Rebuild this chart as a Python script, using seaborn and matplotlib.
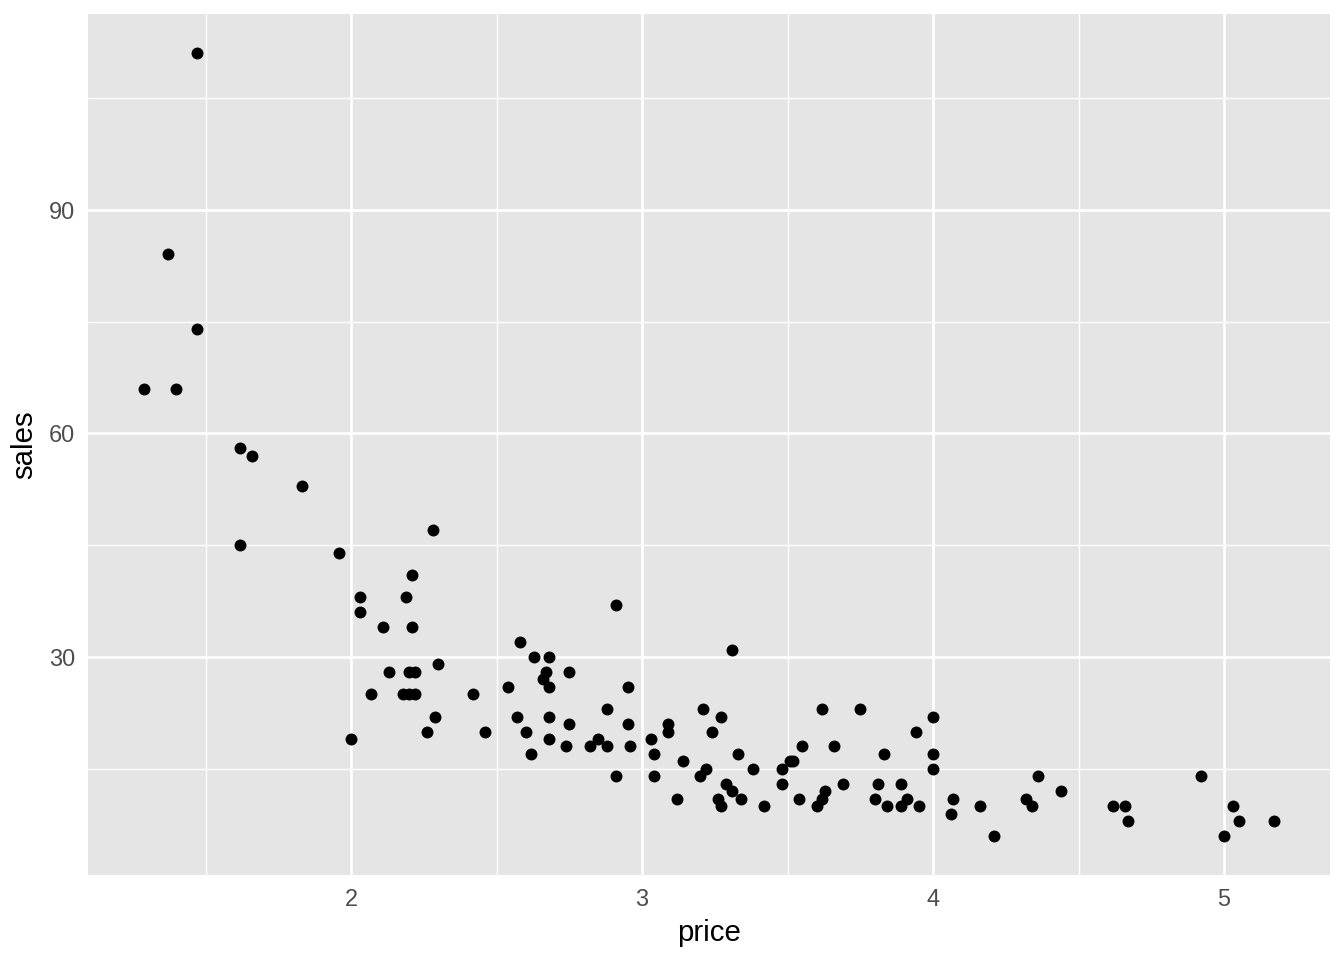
import numpy as np
import pandas as pd
import matplotlib
matplotlib.use("Agg")
import matplotlib.pyplot as plt
import seaborn as sns

price = [1.47, 1.37, 1.47, 1.29, 1.40, 1.62, 1.66, 1.83, 1.62, 1.96,
         2.28, 2.03, 2.03, 2.11, 2.19, 2.21, 2.21, 2.13, 2.20, 2.22,
         2.07, 2.18, 2.20, 2.22, 2.30, 2.00, 2.29, 2.26, 2.42, 2.46,
         2.58, 2.54, 2.63, 2.68, 2.67, 2.66, 2.68, 2.75, 2.91, 2.57,
         2.60, 2.62, 2.68, 2.68, 2.75, 2.74, 2.82, 2.85, 2.88, 2.88,
         2.95, 2.95, 2.96, 2.91, 3.03, 3.04, 3.04, 3.09, 3.09, 3.14,
         3.12, 3.21, 3.20, 3.31, 3.27, 3.24, 3.33, 3.22, 3.29, 3.31,
         3.26, 3.27, 3.34, 3.38, 3.42, 3.48, 3.48, 3.51, 3.52, 3.55,
         3.54, 3.60, 3.62, 3.63, 3.62, 3.66, 3.69, 3.75, 3.83, 3.81,
         3.80, 3.84, 3.89, 3.91, 3.89, 3.95, 3.94, 4.00, 4.00, 4.00,
         4.07, 4.06, 4.16, 4.21, 4.32, 4.34, 4.36, 4.44, 4.62, 4.66,
         4.67, 4.92, 5.00, 5.03, 5.05, 5.17]
sales = [111, 84, 74, 66, 66, 58, 57, 53, 45, 44,
         47, 38, 36, 34, 38, 41, 34, 28, 28, 28,
         25, 25, 25, 25, 29, 19, 22, 20, 25, 20,
         32, 26, 30, 30, 28, 27, 26, 28, 37, 22,
         20, 17, 22, 19, 21, 18, 18, 19, 18, 23,
         26, 21, 18, 14, 19, 17, 14, 21, 20, 16,
         11, 23, 14, 31, 22, 20, 17, 15, 13, 12,
         11, 10, 11, 15, 10, 15, 13, 16, 16, 18,
         11, 10, 11, 12, 23, 18, 13, 23, 17, 13,
         11, 10, 13, 11, 10, 10, 20, 22, 17, 15,
         11, 9, 10, 6, 11, 10, 14, 12, 10, 10,
         8, 14, 6, 10, 8, 8]

x_ticks = [2, 3, 4, 5]
y_ticks = [30, 60, 90]

df = pd.DataFrame({"price": price, "sales": sales})

sns.set_style("darkgrid")
plt.rcParams["font.family"] = ["Liberation Sans", "DejaVu Sans"]

fig = plt.figure(figsize=(7, 5), dpi=192)
ax = fig.add_axes([88/1344, 1 - 875/960, (1330-88)/1344, (875-14)/960])
ax.set_facecolor("#E5E5E5")

sns.scatterplot(data=df, x="price", y="sales", ax=ax, color="black",
                s=20, linewidth=0, zorder=3)

xmin, xmax = min(price), max(price)
ymin, ymax = min(sales), max(sales)
xr = xmax - xmin
yr = ymax - ymin
ax.set_xlim(xmin - 0.05*xr, xmax + 0.05*xr)
ax.set_ylim(ymin - 0.05*yr, ymax + 0.05*yr)

ax.set_xticks(x_ticks)
ax.set_yticks(y_ticks)
ax.set_xticks([1.5, 2.5, 3.5, 4.5], minor=True)
ax.set_yticks([15, 45, 75, 105], minor=True)
ax.grid(which="major", color="white", linewidth=1.0)
ax.grid(which="minor", color="white", linewidth=0.5)
ax.set_axisbelow(True)
for s in ax.spines.values():
    s.set_visible(False)

ax.tick_params(which="major", length=2.75, width=0.7, color="#333333",
               labelsize=8.8, labelcolor="#4D4D4D", pad=2)
ax.tick_params(which="minor", length=0)
ax.set_xlabel("price", fontsize=11, color="black", labelpad=3)
ax.set_ylabel("sales", fontsize=11, color="black", labelpad=4)

fig.savefig("out.png", dpi=192, facecolor="white")
